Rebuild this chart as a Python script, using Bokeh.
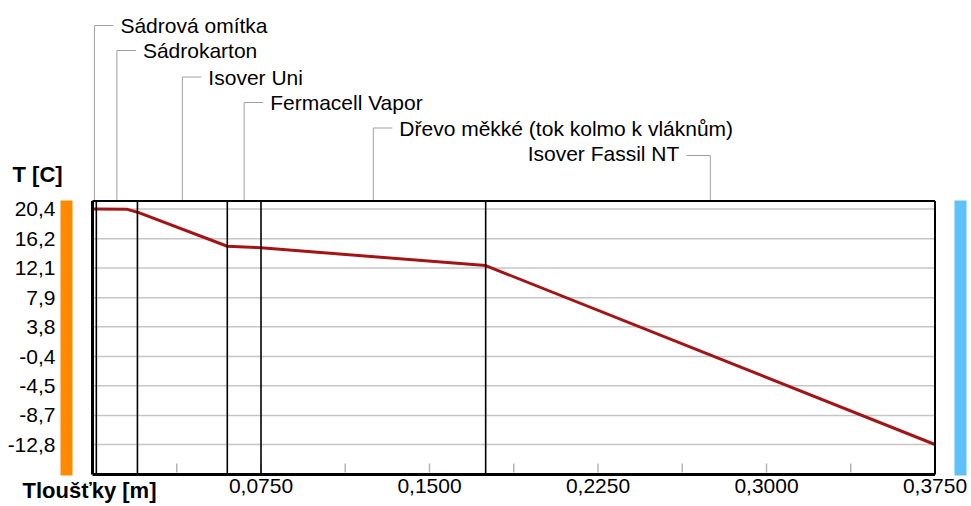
from bokeh.plotting import figure
from bokeh.models import Range1d, FixedTicker, NumeralTickFormatter
from bokeh.core.properties import value
from bokeh.embed import file_html
from bokeh.resources import INLINE
import numpy as np

# ---------------- data ----------------
LAYER_NAMES = ["Sádrová omítka", "Sádrokarton", "Isover Uni", "Fermacell Vapor",
               "Dřevo měkké (tok kolmo k vláknům)", "Isover Fassil NT"]
LAYER_THICKNESS = [0.0017, 0.0183, 0.04, 0.015, 0.1, 0.2]   # m

PROFILE_X = [0.0, 0.0017, 0.0155, 0.02, 0.06, 0.075, 0.175, 0.375]     # m
PROFILE_T = [20.4, 20.4, 20.35, 19.95, 15.15, 14.93, 12.42, -12.8]     # deg C

Y_TICKS = [20.4, 16.2, 12.1, 7.9, 3.8, -0.4, -4.5, -8.7, -12.8]
Y_TICK_LABELS = ["20,4", "16,2", "12,1", "7,9", "3,8", "-0,4", "-4,5", "-8,7", "-12,8"]
X_TICKS = [0.075, 0.15, 0.225, 0.3, 0.375]
X_TICK_LABELS = ["0,0750", "0,1500", "0,2250", "0,3000", "0,3750"]
X_MINOR_TICKS = [0.0375, 0.1125, 0.1875, 0.2625, 0.3375]
X_MAX = 0.375
Y_TITLE = "T [C]"
X_TITLE = "Tloušťky [m]"

# ---------------- layout geometry (canvas pixels) ----------------
W, H = 970, 505
MB_LEFT = 10
FR_L, FR_R, FR_T, FR_B = MB_LEFT, W, 0, H          # bokeh frame
BOX_L, BOX_R, BOX_T, BOX_B = 92, 934.5, 200.5, 474  # chart box
Y_HI_PX, Y_LO_PX = 208.5, 444.0                    # pixel rows of top / bottom tick
SX = (BOX_R - BOX_L) / X_MAX
SY = (Y_LO_PX - Y_HI_PX) / (Y_TICKS[0] - Y_TICKS[-1])

def xd(px):
    return (px - BOX_L) / SX

def yd(py):
    return Y_TICKS[0] - (py - Y_HI_PX) / SY

x_range = Range1d(xd(FR_L), xd(FR_R))
y_range = Range1d(yd(FR_B), yd(FR_T))

FONT = "Liberation Sans"
FS = "21px"

p = figure(width=W, height=H, x_range=x_range, y_range=y_range,
           output_backend="svg", toolbar_location=None,
           min_border_left=MB_LEFT, min_border_right=0, min_border_top=0,
           min_border_bottom=0)
p.outline_line_color = None
p.xgrid.visible = False
p.ygrid.visible = False
p.background_fill_color = "white"
p.border_fill_color = "white"

# x axis (labels drawn inside the canvas)
xa = p.xaxis[0]
xa.ticker = FixedTicker(ticks=X_TICKS, minor_ticks=X_MINOR_TICKS)
xa.formatter = NumeralTickFormatter(format="0.0000", language="cs")
xa.major_label_overrides = dict(zip(X_TICKS, X_TICK_LABELS))
xa.axis_line_color = None
xa.major_tick_line_color = None
xa.minor_tick_line_color = None
xa.major_tick_in = 0
xa.major_tick_out = 0
xa.minor_tick_in = 0
xa.minor_tick_out = 0
xa.major_label_standoff = -27
xa.major_label_text_font = FONT
xa.major_label_text_font_size = FS
xa.major_label_text_color = "black"

# y axis
ya = p.yaxis[0]
ya.ticker = FixedTicker(ticks=Y_TICKS, minor_ticks=[])
ya.formatter = NumeralTickFormatter(format="0.0", language="cs")
ya.major_label_overrides = dict(zip(Y_TICKS, Y_TICK_LABELS))
ya.axis_line_color = None
ya.major_tick_line_color = None
ya.minor_tick_line_color = None
ya.major_tick_in = 0
ya.major_tick_out = 0
ya.minor_tick_in = 0
ya.minor_tick_out = 0
ya.major_label_standoff = -45
ya.major_label_text_font = FONT
ya.major_label_text_font_size = FS
ya.major_label_text_color = "black"

box_top = yd(BOX_T)
box_bot = yd(BOX_B)

# gridlines within the chart box
p.segment(x0=[0] * len(Y_TICKS), x1=[X_MAX] * len(Y_TICKS), y0=Y_TICKS, y1=Y_TICKS,
          line_color="#c6c6c6", line_width=1.5)

# x tick marks, inside the box
all_ticks = X_MINOR_TICKS + X_TICKS
p.segment(x0=all_ticks, x1=all_ticks, y0=[yd(472)] * len(all_ticks),
          y1=[yd(463)] * len(all_ticks), line_color="#b4b4b4", line_width=1.5)

# side bars (interior / exterior)
p.quad(left=[xd(60)], right=[xd(72)], bottom=[yd(475)], top=[yd(200)],
       fill_color="#ff8a00", line_color=None)
p.quad(left=[xd(954)], right=[xd(966)], bottom=[yd(475)], top=[yd(200)],
       fill_color="#5ec2f8", line_color=None)

# layer boundaries
bounds = np.concatenate([[0], np.cumsum(LAYER_THICKNESS)])
inner = [float(b) for b in bounds[1:-1]]
p.segment(x0=inner, x1=inner, y0=[box_bot] * len(inner), y1=[box_top] * len(inner),
          line_color="black", line_width=1.6, level="overlay")

# temperature profile
p.line(PROFILE_X, PROFILE_T, line_color="#a31515", line_width=3)

# chart box
p.segment(x0=[0, 0], x1=[X_MAX, X_MAX], y0=[box_top, box_bot], y1=[box_top, box_bot],
          line_color="black", line_width=[2, 3], level="overlay")
p.segment(x0=[0, X_MAX], x1=[0, X_MAX], y0=[box_bot, box_bot], y1=[box_top, box_top],
          line_color="black", line_width=[3, 2], level="overlay")

# leader labels
mids = [float(v) for v in (bounds[:-1] + bounds[1:]) / 2]
label_py = [25, 50, 76.5, 102, 127.5, 153]
stub = 19 / SX
gap = 26 / SX
lx0, lx1, ly0, ly1 = [], [], [], []
tx, ty, txt_l = [], [], []
for i, (name, m, py) in enumerate(zip(LAYER_NAMES, mids, label_py)):
    y = yd(py)
    if i < len(LAYER_NAMES) - 1:
        lx0 += [m, m]; lx1 += [m, m + stub]; ly0 += [box_top, y]; ly1 += [y, y]
        tx.append(m + gap); ty.append(y); txt_l.append(name)
    else:
        ys = yd(py + 2)
        lx0 += [m, m - 24 / SX]; lx1 += [m, m]; ly0 += [box_top, ys]; ly1 += [ys, ys]
        p.text(x=[m - 31 / SX], y=[y], text=[name], text_align="right",
               text_baseline="middle", text_font=value(FONT),
               text_font_size=FS, text_color="black")
p.segment(x0=lx0, x1=lx1, y0=ly0, y1=ly1, line_color="#a0a0a0", line_width=1)
p.text(x=tx, y=ty, text=txt_l, text_align="left", text_baseline="middle",
       text_font=value(FONT), text_font_size=FS, text_color="black")

# axis titles
p.text(x=[xd(12)], y=[yd(174)], text=[Y_TITLE], text_align="left", text_baseline="middle",
       text_font=value(FONT), text_font_size="22px", text_font_style="bold",
       text_color="black")
p.text(x=[xd(22)], y=[yd(490)], text=[X_TITLE], text_align="left", text_baseline="middle",
       text_font=value(FONT), text_font_size="22px", text_font_style="bold",
       text_color="black")

open("out.html", "w").write(file_html(p, INLINE))
